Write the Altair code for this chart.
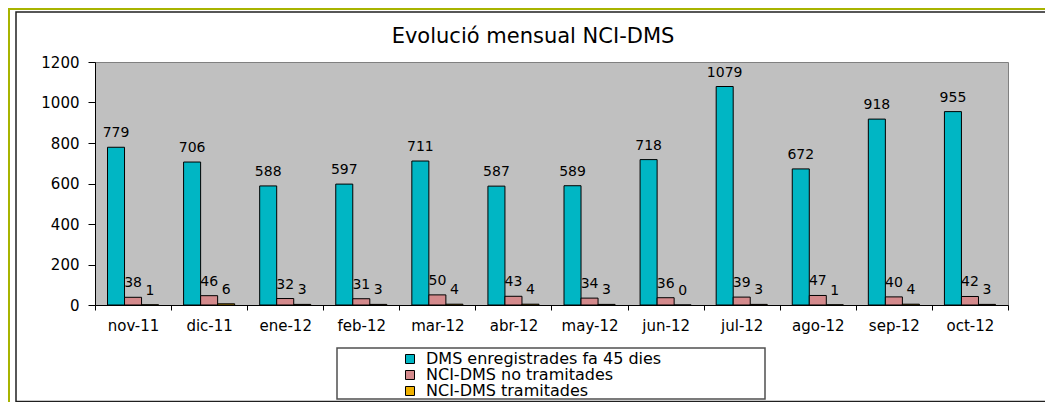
import altair as alt
import pandas as pd

# ---------------- data ----------------
months = ["nov-11", "dic-11", "ene-12", "feb-12", "mar-12", "abr-12",
          "may-12", "jun-12", "jul-12", "ago-12", "sep-12", "oct-12"]
series_names = ["DMS enregistrades fa 45 dies",
                "NCI-DMS no tramitades",
                "NCI-DMS tramitades"]
dms_registrades = [779, 706, 588, 597, 711, 587, 589, 718, 1079, 672, 918, 955]
nci_no_tramitades = [38, 46, 32, 31, 50, 43, 34, 36, 39, 47, 40, 42]
nci_tramitades = [1, 6, 3, 3, 4, 4, 3, 0, 3, 1, 4, 3]
y_tick_values = [0, 200, 400, 600, 800, 1000, 1200]
title_text = "Evolució mensual NCI-DMS"

series_colors = ["#00B6C4", "#D48A8C", "#EFB000"]

rows = []
for name, vals in zip(series_names, [dms_registrades, nci_no_tramitades, nci_tramitades]):
    for m, v in zip(months, vals):
        rows.append({"month": m, "series": name, "value": v})
df = pd.DataFrame(rows)

FONT = "DejaVu Sans"
W, H = 913, 243

x_enc = alt.X(
    "month:N", sort=months,
    scale=alt.Scale(paddingInner=0, paddingOuter=0),
    axis=alt.Axis(title=None, labelAngle=0, tickBand="extent", grid=False,
                  labelFont=FONT, labelFontSize=15, labelColor="black",
                  tickSize=5, tickColor="black", domainColor="black",
                  labelPadding=8),
)
xo_enc = alt.XOffset("series:N", sort=series_names,
                     scale=alt.Scale(paddingOuter=0.735, paddingInner=0))
y_enc = alt.Y(
    "value:Q",
    scale=alt.Scale(domain=[0, 1200], nice=False),
    axis=alt.Axis(title=None, values=y_tick_values, grid=False, format="d",
                  labelFont=FONT, labelFontSize=15, labelColor="black",
                  tickSize=7, tickColor="black", domainColor="black",
                  labelPadding=9),
)
color_enc = alt.Color(
    "series:N", sort=series_names,
    scale=alt.Scale(domain=series_names, range=series_colors),
    legend=alt.Legend(title=None, orient="none", legendX=307, legendY=289,
                      labelFont=FONT, labelFontSize=16, labelColor="black",
                      symbolType="square", symbolSize=81,
                      symbolStrokeColor="black", symbolStrokeWidth=1,
                      labelOffset=8, rowPadding=0,
                      padding=0, labelLimit=500),
)

bars = alt.Chart(df).mark_bar(stroke="black", strokeWidth=1).encode(
    x=x_enc, xOffset=xo_enc, y=y_enc, color=color_enc
)

labels = alt.Chart(df).mark_text(
    font=FONT, fontSize=14, color="black", baseline="alphabetic", dy=-10
).encode(
    x=alt.X("month:N", sort=months),
    xOffset=alt.XOffset("series:N", sort=series_names),
    y="value:Q",
    text="value:Q",
)

deco = alt.Data(values=[{"k": 1}])
outer_frame = alt.Chart(deco).mark_rect(filled=False, stroke="#A8B400", strokeWidth=2).encode(
    x=alt.value(-86), x2=alt.value(1200), y=alt.value(-53), y2=alt.value(600)
)
inner_frame = alt.Chart(deco).mark_rect(filled=False, stroke="#202020", strokeWidth=1.5).encode(
    x=alt.value(-79), x2=alt.value(1200), y=alt.value(-50), y2=alt.value(339.5)
)
legend_box = alt.Chart(deco).mark_rect(fill="white", stroke="#505050", strokeWidth=1.5).encode(
    x=alt.value(242), x2=alt.value(670), y=alt.value(286), y2=alt.value(337)
)
title_mark = alt.Chart(alt.Data(values=[{"t": title_text}])).mark_text(
    font=FONT, fontSize=21, color="black", align="center", baseline="alphabetic"
).encode(
    x=alt.value(438), y=alt.value(-19), text="t:N"
)

chart = alt.layer(outer_frame, inner_frame, legend_box, bars, labels, title_mark).properties(
    width=W, height=H,
    autosize=alt.AutoSizeParams(type="none"),
    padding={"left": 87, "top": 54, "right": 37, "bottom": 97},
    background="white",
).configure_view(fill="#C0C0C0", stroke="#808080", strokeWidth=1)

chart.save("out.html", embed_options={"renderer": "svg", "actions": False})
